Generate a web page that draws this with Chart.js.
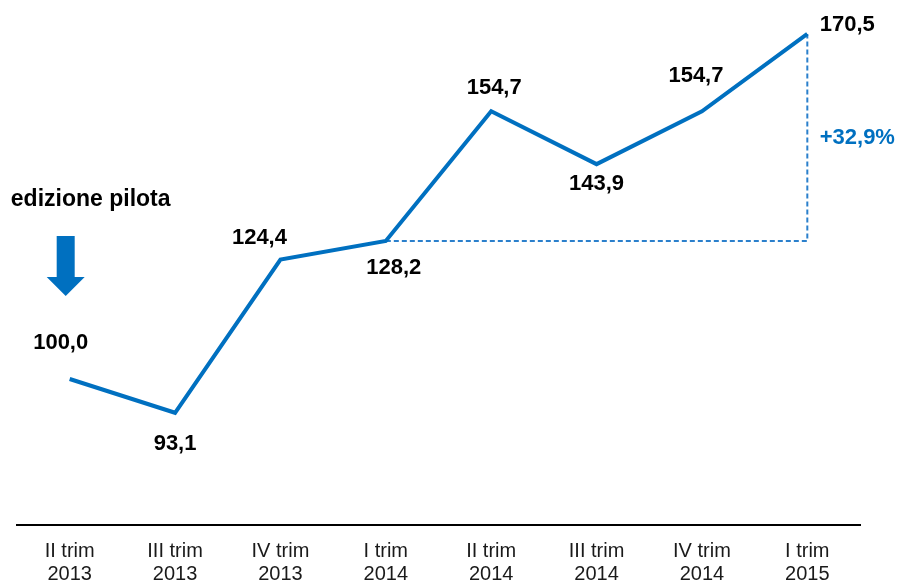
<!DOCTYPE html>
<html>
<head>
<meta charset="utf-8">
<script src="https://cdn.jsdelivr.net/npm/chart.js@4/dist/chart.umd.min.js"></script>
<style>
  html, body { margin: 0; padding: 0; background: #fff; }
  #wrap { width: 902px; height: 583px; }
</style>
</head>
<body>
<div id="wrap"><canvas id="trendChart" width="902" height="583"></canvas></div>
<script>
// Index trend by quarter (II trim 2013 = 100)

const quarterLabels = [
  ['II trim', '2013'],
  ['III trim', '2013'],
  ['IV trim', '2013'],
  ['I trim', '2014'],
  ['II trim', '2014'],
  ['III trim', '2014'],
  ['IV trim', '2014'],
  ['I trim', '2015']
];
const indexValues = [100.0, 93.1, 124.4, 128.2, 154.7, 143.9, 154.7, 170.5];
const valueTexts = ['100,0', '93,1', '124,4', '128,2', '154,7', '143,9', '154,7', '170,5'];

// comparison I trim 2014 -> I trim 2015
const compareFrom = 3;
const compareTo = 7;
const compareText = '+32,9%';
const pilotText = 'edizione pilota';

(function () {
  const canvasEl = document.getElementById('trendChart');
  if (!canvasEl || typeof Chart === 'undefined') return;

  const BLUE = '#0070C0';
  const DASH_BLUE = '#2B80CC';
  const FONT = "'Liberation Sans', Arial, sans-serif";

  // label placement around each point: [dx, dy]
  const labelOffsets = [[-9, -36], [0, 31], [-21, -22], [8, 27], [3, -23], [0, 20], [-6, -35], [40, -9]];

  Chart.defaults.font.family = FONT;

  // dashed bracket uses a hidden linear x axis lined up with the category slots
  const compareData = [
    { x: compareFrom, y: indexValues[compareFrom] },
    { x: compareTo, y: indexValues[compareFrom] },
    { x: compareTo, y: indexValues[compareTo] }
  ];

  const annotationPlugin = {
    id: 'trendAnnotations',
    afterDatasetsDraw(chart) {
      const { ctx } = chart;
      const meta = chart.getDatasetMeta(0);
      const xScale = chart.scales.x;
      const yScale = chart.scales.y;

      ctx.save();
      ctx.textAlign = 'center';
      ctx.textBaseline = 'middle';
      ctx.fillStyle = '#000';
      ctx.font = 'bold 22px ' + FONT;
      meta.data.forEach((pt, i) => {
        const off = labelOffsets[i] || [0, -25];
        ctx.fillText(valueTexts[i], pt.x + off[0], pt.y + off[1]);
      });

      // percentage next to the dashed vertical
      const midVal = (indexValues[compareFrom] + indexValues[compareTo]) / 2;
      ctx.fillStyle = BLUE;
      ctx.fillText(compareText, xScale.getPixelForValue(compareTo) + 50, yScale.getPixelForValue(midVal));

      // pilot edition note + arrow
      const x0 = xScale.getPixelForValue(0);
      ctx.fillStyle = '#000';
      ctx.font = 'bold 23px ' + FONT;
      ctx.fillText(pilotText, x0 + 21, 200);

      const ax = x0 - 4;
      ctx.fillStyle = BLUE;
      ctx.beginPath();
      ctx.moveTo(ax - 9, 236);
      ctx.lineTo(ax + 9, 236);
      ctx.lineTo(ax + 9, 277);
      ctx.lineTo(ax + 19, 277);
      ctx.lineTo(ax, 296);
      ctx.lineTo(ax - 19, 277);
      ctx.lineTo(ax - 9, 277);
      ctx.closePath();
      ctx.fill();
      ctx.restore();
    }
  };

  new Chart(canvasEl.getContext('2d'), {
    type: 'line',
    data: {
      labels: quarterLabels,
      datasets: [
        {
          label: 'Indice',
          data: indexValues,
          borderColor: BLUE,
          borderWidth: 4,
          pointRadius: 0,
          tension: 0,
          order: 1
        },
        {
          label: 'Confronto',
          data: compareData,
          xAxisID: 'xl',
          borderColor: DASH_BLUE,
          borderWidth: 2,
          borderDash: [5, 3],
          pointRadius: 0,
          tension: 0,
          order: 2
        }
      ]
    },
    options: {
      responsive: false,
      animation: false,
      devicePixelRatio: 1,
      layout: { padding: { left: 17, right: 42, top: 0, bottom: 0 } },
      plugins: {
        legend: { display: false },
        tooltip: { enabled: false }
      },
      scales: {
        x: {
          type: 'category',
          offset: true,
          grid: { display: false, drawTicks: false },
          border: { display: true, color: '#000', width: 2 },
          ticks: {
            color: '#1a1a1a',
            font: { size: 20, lineHeight: 1.15 },
            padding: 15,
            maxRotation: 0,
            autoSkip: false
          },
          afterFit: (scale) => { scale.height = 58; }
        },
        xl: {
          type: 'linear',
          display: false,
          min: -0.5,
          max: quarterLabels.length - 0.5
        },
        y: {
          display: false,
          min: 70.17,
          max: 177.44
        }
      }
    },
    plugins: [annotationPlugin]
  });
})();
</script>
</body>
</html>
